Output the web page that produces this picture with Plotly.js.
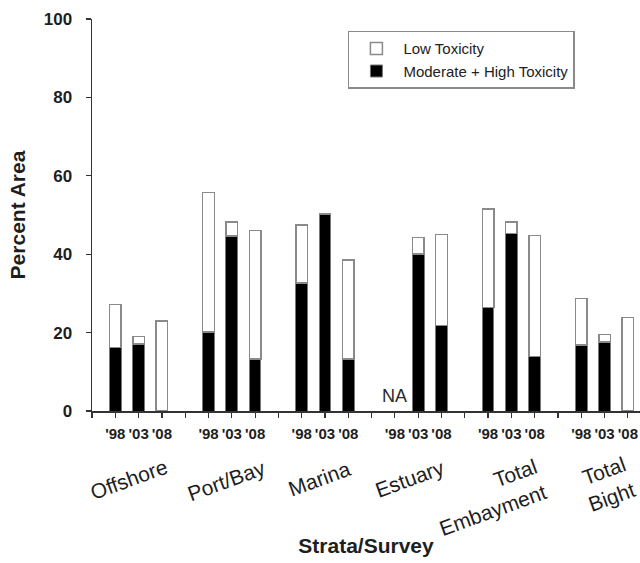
<!DOCTYPE html>
<html>
<head>
<meta charset="utf-8">
<script src="https://cdn.plot.ly/plotly-3.0.1.min.js"></script>
<style>html,body{margin:0;padding:0;background:#fff;}#chart{width:640px;height:563px;}</style>
</head>
<body>
<div id="chart"></div>
<script>
// ---- data ----
var strata = ['Offshore', 'Port/Bay', 'Marina', 'Estuary', 'Total<br>Embayment', 'Total<br>Bight'];
var surveys = ["'98", "'03", "'08"];
// Moderate + High toxicity (% area), per stratum per survey ('98, '03, '08)
var modHighOffshore = [16.2, 17.1, 0];
var modHighPort     = [20.1, 44.6, 13.3];
var modHighMarina   = [32.6, 50.3, 13.3];
var modHighEstuary  = [null, 40.1, 21.8];
var modHighEmbay    = [26.4, 45.3, 13.9];
var modHighBight    = [16.8, 17.6, 0];
// Low toxicity (% area), stacked on top
var lowOffshore = [11.0, 1.9, 23.0];
var lowPort     = [35.6, 3.6, 32.8];
var lowMarina   = [14.8, 0, 25.2];
var lowEstuary  = [null, 4.2, 23.2];
var lowEmbay    = [25.1, 2.9, 30.9];
var lowBight    = [11.9, 1.9, 23.8];
var naText = 'NA';

var modHigh = [modHighOffshore, modHighPort, modHighMarina, modHighEstuary, modHighEmbay, modHighBight];
var low = [lowOffshore, lowPort, lowMarina, lowEstuary, lowEmbay, lowBight];

// slot layout: 3 surveys per stratum plus one empty slot between strata
var slotsPer = surveys.length + 1;
var xs = [], yMod = [], yLow = [], tickvals = [], ticktext = [];
var nSlots = strata.length * slotsPer;
for (var s = 0; s < nSlots; s++) { tickvals.push(s); ticktext.push(''); }
var naX = null;
strata.forEach(function (st, i) {
  surveys.forEach(function (sv, j) {
    var x = i * slotsPer + j + 1;
    xs.push(x);
    yMod.push(modHigh[i][j]);
    yLow.push(low[i][j]);
    ticktext[x] = sv;
    if (modHigh[i][j] === null && low[i][j] === null) naX = x;
  });
});

var font = 'Liberation Sans, Arial, Helvetica, sans-serif';
var ink = '#1e1e1e';

var traces = [
  {
    type: 'bar', name: 'Moderate + High Toxicity', x: xs, y: yMod, width: 0.5,
    marker: {color: '#000000', line: {color: '#777777', width: 1}},
    hoverinfo: 'x+y'
  },
  {
    type: 'bar', name: 'Low Toxicity', x: xs, y: yLow, width: 0.5,
    marker: {color: '#ffffff', line: {color: '#8a8a8a', width: 1.5}},
    hoverinfo: 'x+y'
  }
];

// category label placement tweaks (layout only)
var labelShiftX = [-10, -5, -5, -8, -23, 2];
var labelY = [-0.176, -0.178, -0.171, -0.173, -0.219, -0.186];

var annotations = strata.map(function (st, i) {
  return {
    x: i * slotsPer + 2, y: labelY[i], xref: 'x', yref: 'paper',
    xshift: labelShiftX[i],
    text: st, showarrow: false, textangle: -20, align: 'right',
    xanchor: 'center', yanchor: 'middle',
    font: {family: font, size: 21, color: ink}
  };
});
if (naX !== null) {
  annotations.push({
    x: naX, y: 0, xref: 'x', yref: 'y', yanchor: 'bottom', yshift: 3,
    text: naText, showarrow: false,
    font: {family: font, size: 18, color: '#2a2a2a'}
  });
}

var layout = {
  width: 640, height: 563,
  margin: {l: 92, r: 0, t: 19, b: 152, autoexpand: false},
  paper_bgcolor: '#ffffff', plot_bgcolor: '#ffffff',
  barmode: 'stack',
  showlegend: true,
  legend: {
    x: 0.467, y: 0.97, xanchor: 'left', yanchor: 'top',
    bordercolor: '#8a8a8a', borderwidth: 1.5, bgcolor: '#ffffff',
    font: {family: font, size: 15, color: '#222222'},
    traceorder: 'reversed', tracegroupgap: 0, itemwidth: 44
  },
  xaxis: {
    range: [0, 23.52], tickmode: 'array', tickvals: tickvals, ticktext: ticktext,
    ticks: 'outside', ticklen: 5, tickwidth: 1.2, tickcolor: '#333',
    showline: true, linecolor: '#333', linewidth: 1.5,
    showgrid: false, zeroline: false, automargin: false,
    ticklabelstandoff: 3,
    tickfont: {family: font, size: 15, color: ink, weight: 'bold'},
    title: {text: 'Strata/Survey', standoff: 98, font: {family: font, size: 21, color: ink, weight: 'bold'}}
  },
  yaxis: {
    range: [0, 100], dtick: 20, tick0: 0,
    ticks: 'outside', ticklen: 5, tickwidth: 1.2, tickcolor: '#333',
    showline: true, linecolor: '#333', linewidth: 1.5,
    showgrid: false, zeroline: false, automargin: false,
    ticklabelstandoff: 10,
    tickfont: {family: font, size: 17, color: ink, weight: 'bold'},
    title: {text: 'Percent Area', standoff: 12, font: {family: font, size: 21, color: ink, weight: 'bold'}}
  },
  annotations: annotations
};

Plotly.newPlot('chart', traces, layout, {displayModeBar: false, staticPlot: true});
</script>
</body>
</html>
